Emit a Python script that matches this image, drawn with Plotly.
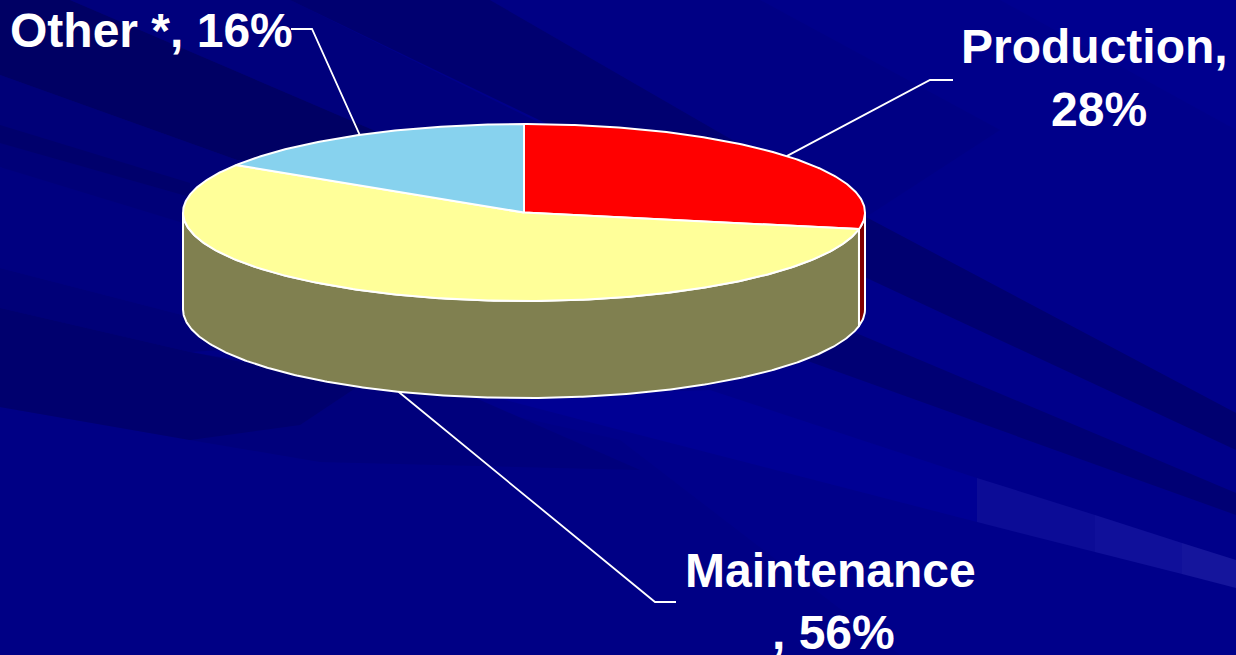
import numpy as np
import plotly.graph_objects as go

# ---- data ----
categories = ["Production", "Maintenance", "Other *"]
shares = [28, 56, 16]
label_lines = [["Production,", "28%"], ["Maintenance", ", 56%"], ["Other *, 16%"]]

# ---- styles and layout ----
top_colors = ["#ff0000", "#ffff99", "#87d2ee"]
wall_colors = ["#800000", "#808050", "#436977"]
CX, CY, RX, RY, DEPTH = 524, 212.5, 341, 88.5, 97
W, H = 1236, 655
FONT = "Liberation Sans"


def rim(a0, a1, depth=0.0):
    """Points on the ellipse for clockwise-from-top angles in degrees."""
    t = np.radians(np.linspace(a0, a1, max(int(abs(a1 - a0) * 2), 2)))
    return CX + RX * np.sin(t), CY - RY * np.cos(t) + depth


def poly(pts, color):
    d = "M" + " L".join(f"{x},{y}" for x, y in pts) + " Z"
    return dict(type="path", path=d, fillcolor=color, line_width=0, layer="below",
                xref="x", yref="y")


bg = [
    # large tone areas
    poly([(0, 0), (1236, 0), (1236, 655), (0, 655)], "#00008a"),
    poly([(0, 300), (620, 440), (900, 655), (0, 655)], "#000085"),
    poly([(490, 0), (760, 0), (1000, 130), (866, 217)], "#000084"),
    # left side bands
    poly([(0, 75), (237, 160), (420, 260), (190, 260), (0, 167)], "#000078"),
    poly([(0, 167), (190, 225), (420, 300), (300, 340), (190, 317), (0, 268)], "#000080"),
    poly([(0, 125), (190, 183), (190, 197), (0, 143)], "#00006c"),
    poly([(0, 268), (190, 317), (300, 345), (190, 352), (0, 308)], "#000078"),
    poly([(0, 407), (190, 440), (320, 462), (640, 470), (480, 400), (190, 352), (0, 308)], "#00007c"),
    poly([(0, 308), (190, 352), (360, 385), (300, 425), (190, 440), (0, 407)], "#00006e"),
    # top-left fan
    poly([(70, 0), (290, 0), (540, 123), (540, 160), (373, 130)], "#00007c"),
    poly([(0, 0), (70, 0), (373, 130), (430, 170), (237, 160), (0, 75)], "#000064"),
    # long dark streaks
    poly([(290, 0), (490, 0), (866, 217), (1236, 413), (1236, 450), (871, 280)], "#000070"),
    poly([(856, 333), (1236, 493), (1236, 515), (805, 360)], "#000074"),
    # lighter streak below the pie
    poly([(494, 397), (710, 390), (977, 478), (977, 522), (620, 430)], "#000094"),
    # lighter patch, lower right
    poly([(977, 478), (1095, 515), (1095, 552), (977, 522)], "#0c0c96"),
    poly([(1095, 515), (1182, 543), (1182, 574), (1095, 552)], "#10109a"),
    poly([(1182, 543), (1236, 560), (1236, 588), (1182, 574)], "#15159c"),
    # lighter streak, top right
    poly([(1000, 0), (1236, 0), (1236, 130)], "#00008f"),
]

# slice boundaries, clockwise from 12 o'clock
edges = np.cumsum([0] + shares) * 3.6
fig = go.Figure()

# walls: only the part of each slice on the front half is visible
for i in range(len(shares)):
    a0, a1 = max(edges[i], 90), min(edges[i + 1], 270)
    if a0 >= a1:
        continue
    xt, yt = rim(a0, a1)
    xb, yb = rim(a0, a1, DEPTH)
    fig.add_trace(go.Scatter(
        x=np.r_[xt, xb[::-1], xt[0]], y=np.r_[yt, yb[::-1], yt[0]],
        mode="lines", fill="toself", fillcolor=wall_colors[i],
        line=dict(color="white", width=2), hoverinfo="skip"))

# top faces
for i, cat in enumerate(categories):
    xt, yt = rim(edges[i], edges[i + 1])
    fig.add_trace(go.Scatter(
        x=np.r_[CX, xt, CX], y=np.r_[CY, yt, CY], name=cat,
        mode="lines", fill="toself", fillcolor=top_colors[i],
        line=dict(color="white", width=2), text=f"{cat}: {shares[i]}%", hoverinfo="text"))

# leader lines start at each slice's mid angle
mids = (edges[:-1] + edges[1:]) / 2
elbows = [[(930, 80), (953, 80)], [(655, 602), (676, 602)], [(312, 29), (291, 29)]]
for i, m in enumerate(mids):
    t = np.radians(m)
    ax = CX + RX * np.sin(t)
    ay = CY - RY * np.cos(t) + (DEPTH if 90 < m < 270 else 0)
    fig.add_trace(go.Scatter(
        x=[ax] + [p[0] for p in elbows[i]], y=[ay] + [p[1] for p in elbows[i]],
        mode="lines", line=dict(color="white", width=1.8), hoverinfo="skip"))

# one centre per text line
line_pos = [[(1094.5, 46), (1099, 109)], [(830.5, 570), (833, 632)], [(151.5, 30)]]
annotations = [
    dict(x=x, y=y, text=f"<b>{t}</b>", showarrow=False, align="center",
         xanchor="center", yanchor="middle",
         font=dict(family=FONT, size=48, color="white"))
    for lines, pos in zip(label_lines, line_pos)
    for t, (x, y) in zip(lines, pos)
]

fig.update_layout(
    width=W, height=H, margin=dict(l=0, r=0, t=0, b=0),
    paper_bgcolor="#00008a", plot_bgcolor="#00008a", showlegend=False,
    xaxis=dict(range=[0, W], visible=False, fixedrange=True),
    yaxis=dict(range=[H, 0], visible=False, fixedrange=True),
    shapes=bg, annotations=annotations,
)
fig.write_html("out.html", config={"displayModeBar": False},
               post_script="document.body.style.margin='0';document.body.style.overflow='hidden';")
